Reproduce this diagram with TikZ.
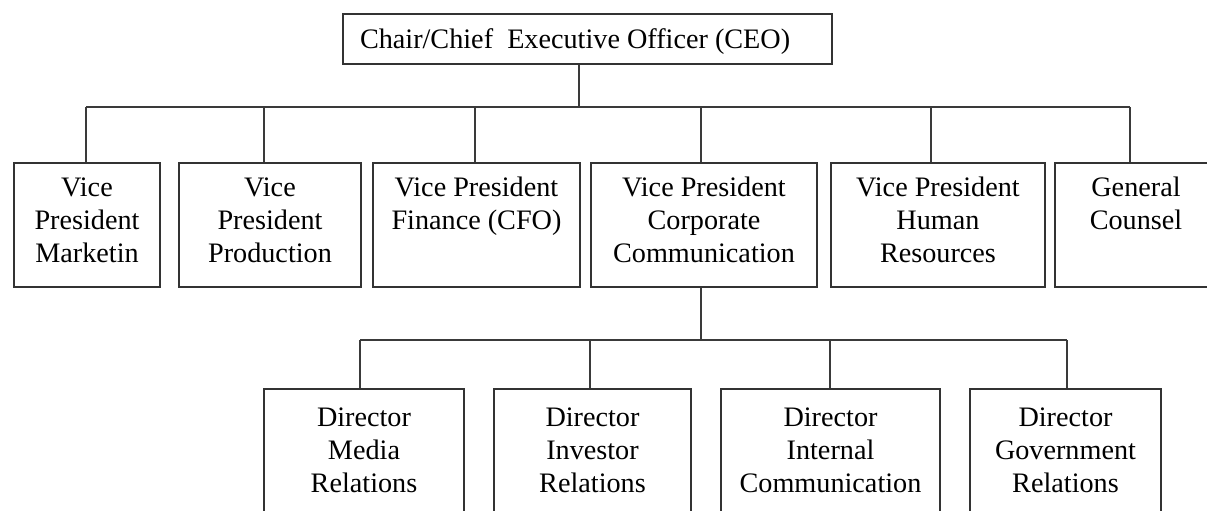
\documentclass[tikz,border=0pt]{standalone}
\usepackage{fontspec}
\setmainfont{Liberation Serif}
\definecolor{boxc}{HTML}{333333}
\definecolor{linec}{HTML}{3A3A3A}
\newcommand{\bxt}[4]{\parbox[t][#2pt][t]{#1pt}{\centering\rule{0pt}{#3pt}#4}}
\begin{document}
\begin{tikzpicture}[x=0.5pt,y=-0.5pt,
  orgbox/.style={draw=boxc,line width=1pt,inner sep=0pt,anchor=north west,
    font=\fontsize{14.1}{16.5}\selectfont},
  link/.style={draw=linec,line width=1pt}]
\useasboundingbox (0,0) rectangle (1207,510);
\clip (0,0) rectangle (1207,510);
\fill[white] (0,0) rectangle (1207,510);
% CEO
\node[orgbox] (ceo) at (342,13) {\parbox[t][25pt][t]{244.5pt}{\rule{0pt}{17pt}\hspace*{8.5pt}Chair/Chief\ \ Executive Officer (CEO)}};
% VPs
\node[orgbox] (vp1) at (13,162) {\bxt{73}{62}{16.5}{Vice\\President\\Marketin}};
\node[orgbox] (vp2) at (178,162) {\bxt{91}{62}{16.5}{Vice\\President\\Production}};
\node[orgbox] (vp3) at (372,162) {\bxt{103.5}{62}{16.5}{Vice President\\Finance (CFO)}};
\node[orgbox] (vp4) at (590,162) {\bxt{113}{62}{16.5}{Vice President\\Corporate\\Communication}};
\node[orgbox] (vp5) at (830,162) {\bxt{107}{62}{16.5}{Vice President\\Human\\Resources}};
\node[orgbox] (vp6) at (1054,162) {\bxt{81}{62}{16.5}{General\\Counsel}};
% Directors
\node[orgbox] (d1) at (263,388) {\bxt{100}{70}{18.5}{Director\\Media\\Relations}};
\node[orgbox] (d2) at (493,388) {\bxt{98.5}{70}{18.5}{Director\\Investor\\Relations}};
\node[orgbox] (d3) at (720,388) {\bxt{109.5}{70}{18.5}{Director\\Internal\\Communication}};
\node[orgbox] (d4) at (969,388) {\bxt{95.5}{70}{18.5}{Director\\Government\\Relations}};
% bus coordinates
\coordinate (bc) at (579,107);
\coordinate (b1) at (86,107);
\coordinate (b2) at (264,107);
\coordinate (b3) at (475,107);
\coordinate (b4) at (701,107);
\coordinate (b5) at (931,107);
\coordinate (b6) at (1130,107);
\coordinate (sc) at (701,340);
\coordinate (s1) at (360,340);
\coordinate (s2) at (590,340);
\coordinate (s3) at (830,340);
\coordinate (s4) at (1067,340);
% connectors
\draw[link] (ceo.south -| bc) -- (bc);
\draw[link] (b1) -- (b6);
\draw[link] (b1) -- (b1 |- vp1.north);
\draw[link] (b2) -- (b2 |- vp2.north);
\draw[link] (b3) -- (b3 |- vp3.north);
\draw[link] (b4) -- (b4 |- vp4.north);
\draw[link] (b5) -- (b5 |- vp5.north);
\draw[link] (b6) -- (b6 |- vp6.north);
\draw[link] (vp4.south -| sc) -- (sc);
\draw[link] (s1) -- (s4);
\draw[link] (s1) -- (s1 |- d1.north);
\draw[link] (s2) -- (s2 |- d2.north);
\draw[link] (s3) -- (s3 |- d3.north);
\draw[link] (s4) -- (s4 |- d4.north);
\end{tikzpicture}
\end{document}
